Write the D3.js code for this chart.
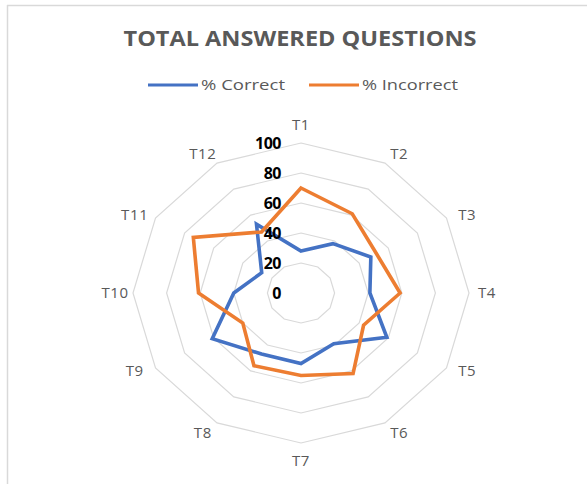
<!DOCTYPE html>
<html>
<head>
<meta charset="utf-8">
<script src="https://cdn.jsdelivr.net/npm/d3@7"></script>
<style>
  html, body { margin: 0; padding: 0; background: #fff; }
  svg { display: block; }
</style>
</head>
<body>
<svg id="chart" width="587" height="484"></svg>
<script>
// data
const categories = ["T1", "T2", "T3", "T4", "T5", "T6", "T7", "T8", "T9", "T10", "T11", "T12"];
const correct   = [28, 38, 48, 41, 59, 39, 47, 47, 61, 40, 27, 53];
const incorrect = [70, 61, 52, 59, 43, 62, 55, 56, 40, 61, 74, 47];
const ticks = [0, 20, 40, 60, 80, 100];

const seriesNames  = ["% Correct", "% Incorrect"];
const seriesColors = ["#4472C4", "#ED7D31"];

const svg = d3.select("#chart");
const W = 587, H = 484;
const font = "'Open Sans', 'Liberation Sans', sans-serif";

// chart frame (only top and left edges are visible in the picture)
svg.append("line").attr("x1", 7).attr("y1", 5.5).attr("x2", W).attr("y2", 5.5)
    .attr("stroke", "#d9d9d9").attr("stroke-width", 1.5);
svg.append("line").attr("x1", 7.5).attr("y1", 5).attr("x2", 7.5).attr("y2", H)
    .attr("stroke", "#d9d9d9").attr("stroke-width", 1.5);

// title
svg.append("text")
    .attr("x", 300).attr("y", 46)
    .attr("text-anchor", "middle")
    .attr("font-family", font)
    .attr("font-weight", "bold")
    .attr("font-size", 21)
    .attr("fill", "#595959")
    .attr("textLength", 353)
    .attr("lengthAdjust", "spacingAndGlyphs")
    .text("TOTAL ANSWERED QUESTIONS");

// legend
const legend = [
    {x1: 148, x2: 198, tx: 201, tw: 84},
    {x1: 309, x2: 359, tx: 362, tw: 96}
];
legend.forEach(function(l, i) {
    svg.append("line")
        .attr("x1", l.x1).attr("x2", l.x2).attr("y1", 85).attr("y2", 85)
        .attr("stroke", seriesColors[i]).attr("stroke-width", 3);
    svg.append("text")
        .attr("x", l.tx).attr("y", 90)
        .attr("font-family", font)
        .attr("font-size", 14)
        .attr("fill", "#595959")
        .attr("textLength", l.tw)
        .attr("lengthAdjust", "spacingAndGlyphs")
        .text(seriesNames[i]);
});

// radar geometry (the source picture is stretched sideways)
const cx = 301, cy = 293;
const rx = d3.scaleLinear().domain([0, 100]).range([0, 168]);
const ry = d3.scaleLinear().domain([0, 100]).range([0, 150]);
const angle = d3.scalePoint().domain(categories).range([0, 2 * Math.PI * 11 / 12]);

function pt(cat, v) {
    const a = angle(cat);
    return [cx + rx(v) * Math.sin(a), cy - ry(v) * Math.cos(a)];
}

const line = d3.line().curve(d3.curveLinearClosed);

// grid rings
svg.append("g").selectAll("path")
    .data(ticks.filter(t => t > 0))
    .join("path")
    .attr("d", t => line(categories.map(c => pt(c, t))))
    .attr("fill", "none")
    .attr("stroke", "#d9d9d9")
    .attr("stroke-width", 1.2);

// series
[correct, incorrect].forEach(function(vals, i) {
    svg.append("path")
        .attr("d", line(categories.map((c, j) => pt(c, vals[j]))))
        .attr("fill", "none")
        .attr("stroke", seriesColors[i])
        .attr("stroke-width", 3.6)
        .attr("stroke-linejoin", "miter");
});

// value labels along T1
svg.append("g").selectAll("text")
    .data(ticks)
    .join("text")
    .attr("x", 281)
    .attr("y", t => cy - ry(t))
    .attr("dy", "0.36em")
    .attr("text-anchor", "end")
    .attr("font-family", font)
    .attr("font-weight", "bold")
    .attr("font-size", 16)
    .attr("letter-spacing", "-0.5")
    .attr("fill", "#000")
    .text(t => t);

// category labels
svg.append("g").selectAll("text")
    .data(categories)
    .join("text")
    .attr("x", c => {
        const a = angle(c);
        return cx + (186 + 12 * Math.abs(Math.cos(a))) * Math.sin(a);
    })
    .attr("y", c => {
        const a = angle(c);
        return cy - (168 - 14 * Math.abs(Math.sin(a))) * Math.cos(a);
    })
    .attr("dy", "0.36em")
    .attr("text-anchor", "middle")
    .attr("font-family", font)
    .attr("font-size", 15)
    .attr("letter-spacing", "0.6")
    .attr("fill", "#595959")
    .text(c => c);
</script>
</body>
</html>
